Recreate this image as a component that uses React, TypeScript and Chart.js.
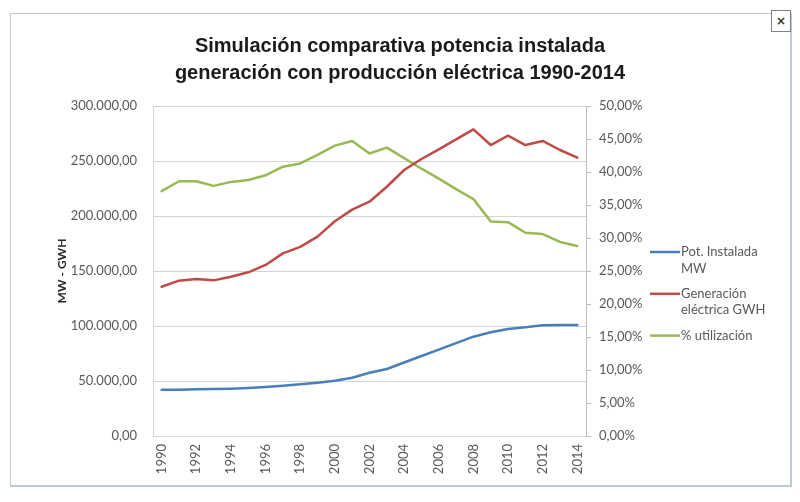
import React, { useEffect, useRef } from "react";
import { Chart, registerables } from "chart.js";

Chart.register(...registerables);

const YEARS = [1990, 1991, 1992, 1993, 1994, 1995, 1996, 1997, 1998, 1999, 2000, 2001, 2002, 2003, 2004, 2005, 2006, 2007, 2008, 2009, 2010, 2011, 2012, 2013, 2014];

const POT_MW = [42100, 42100, 42400, 42700, 43000, 43600, 44500, 45700, 47000, 48500, 50300, 53000, 57500, 60900, 66800, 72700, 78500, 84500, 90300, 94300, 97300, 98800, 100600, 100900, 100900];

const GEN_GWH = [135700, 141200, 142700, 141500, 144800, 148800, 155500, 166000, 172000, 181200, 195200, 205800, 213000, 226600, 241800, 251800, 260600, 269700, 278800, 264500, 273000, 264500, 268200, 260000, 253000];

const PCT_UTIL = [37.1, 38.6, 38.6, 37.9, 38.5, 38.8, 39.5, 40.8, 41.3, 42.6, 44.0, 44.7, 42.8, 43.7, 42.1, 40.5, 39.0, 37.4, 35.9, 32.5, 32.4, 30.8, 30.6, 29.4, 28.8];

const SERIES_LABELS = ["Pot. Instalada MW", "Generación eléctrica GWH", "% utilización"];
const LEGEND_LINES = [["Pot. Instalada", "MW"], ["Generación", "eléctrica GWH"], ["% utilización"]];
const TITLE_LINES = ["Simulación comparativa potencia instalada", "generación con producción eléctrica 1990-2014"];
const Y_TITLE = "MW - GWH";

const fmtLeft = (v: number) =>
  Math.round(v).toString().replace(/\B(?=(\d{3})+(?!\d))/g, ".") + ",00";
const fmtRight = (v: number) => v.toFixed(2).replace(".", ",") + "%";

const TICK_FONT = { family: "Lato, 'Open Sans', sans-serif", size: 13 };
const TEXT_COLOR = "#595959";

const sideLegend = {
  id: "sideLegend",
  afterDraw(chart: any) {
    const ctx = chart.ctx;
    ctx.save();
    let y = 252;
    chart.data.datasets.forEach((ds: any, i: number) => {
      ctx.strokeStyle = ds.borderColor;
      ctx.lineWidth = 2.5;
      ctx.lineCap = "butt";
      ctx.beginPath();
      ctx.moveTo(650, y);
      ctx.lineTo(680, y);
      ctx.stroke();
      ctx.fillStyle = TEXT_COLOR;
      ctx.font = "13px Lato, 'Open Sans', sans-serif";
      ctx.textBaseline = "middle";
      ctx.textAlign = "left";
      (LEGEND_LINES[i] || [ds.label]).forEach((t: string, j: number) => {
        ctx.fillText(t, 681, y + j * 16.5);
      });
      y += 41.8;
    });
    ctx.restore();
  },
};

export default function App() {
  const ref = useRef<HTMLCanvasElement | null>(null);

  useEffect(() => {
    if (!ref.current) return;
    const chart = new Chart(ref.current, {
      type: "line",
      data: {
        labels: YEARS.map(String),
        datasets: [
          {
            label: SERIES_LABELS[0],
            data: POT_MW,
            borderColor: "#4a7ebb",
            backgroundColor: "#4a7ebb",
            yAxisID: "y",
          },
          {
            label: SERIES_LABELS[1],
            data: GEN_GWH,
            borderColor: "#be4b48",
            backgroundColor: "#be4b48",
            yAxisID: "y",
          },
          {
            label: SERIES_LABELS[2],
            data: PCT_UTIL,
            borderColor: "#98b954",
            backgroundColor: "#98b954",
            yAxisID: "y1",
          },
        ],
      },
      options: {
        responsive: false,
        animation: false,
        layout: { padding: 0 },
        elements: {
          point: { radius: 0, hoverRadius: 0 },
          line: { borderWidth: 2.5, tension: 0, borderJoinStyle: "round", borderCapStyle: "round" },
        },
        plugins: {
          legend: { display: false },
          tooltip: { enabled: false },
          title: {
            display: true,
            text: TITLE_LINES,
            color: "#1a1a1a",
            font: { family: "'Liberation Sans', Arial, sans-serif", size: 20, weight: "bold", lineHeight: 1.35 },
            padding: { top: 33, bottom: 19 },
          },
        },
        scales: {
          x: {
            type: "category",
            offset: true,
            grid: { display: false, drawTicks: false },
            border: { display: true, color: "#d4d4d4" },
            ticks: {
              autoSkip: false,
              minRotation: 90,
              maxRotation: 90,
              padding: 8,
              color: TEXT_COLOR,
              font: TICK_FONT,
              callback: (_v: any, i: number) => (YEARS[i] % 2 === 0 ? String(YEARS[i]) : ""),
            },
            afterFit: (s: any) => {
              s.height = 66;
            },
          },
          y: {
            position: "left",
            min: 0,
            max: 300000,
            grid: { color: "#d4d4d4", drawTicks: false },
            border: { display: true, color: "#d4d4d4" },
            ticks: {
              stepSize: 50000,
              padding: 16,
              color: TEXT_COLOR,
              font: TICK_FONT,
              callback: (v: any) => fmtLeft(Number(v)),
            },
            title: {
              display: true,
              text: Y_TITLE,
              color: "#262626",
              font: { family: "Lato, 'Open Sans', sans-serif", size: 12, weight: "bold" },
              padding: { top: 55, bottom: 0 },
            },
            afterFit: (s: any) => {
              s.width = 153;
            },
          },
          y1: {
            position: "right",
            min: 0,
            max: 50,
            grid: { drawOnChartArea: false, drawTicks: true, tickLength: 5, color: "#bfbfbf" },
            border: { display: true, color: "#bfbfbf" },
            ticks: {
              stepSize: 5,
              padding: 8,
              color: TEXT_COLOR,
              font: TICK_FONT,
              callback: (v: any) => fmtRight(Number(v)),
            },
            afterFit: (s: any) => {
              s.width = 214;
            },
          },
        },
      },
      plugins: [sideLegend],
    } as any);
    return () => chart.destroy();
  }, []);

  return (
    <div style={{ position: "fixed", left: 0, top: 0, width: 800, height: 502, background: "#ffffff", overflow: "hidden" }}>
      <canvas ref={ref} width={800} height={502} style={{ position: "absolute", left: 0, top: 0, width: 800, height: 502 }} />
      <div
        style={{
          position: "absolute",
          left: 10,
          top: 13,
          width: 779,
          height: 471,
          border: "1px solid #bccad4",
          borderBottomWidth: 2,
          borderRightWidth: 2,
          pointerEvents: "none",
        }}
      />
      <div
        style={{
          position: "absolute",
          left: 771,
          top: 10,
          width: 18,
          height: 20,
          border: "1px solid #808080",
          background: "#ffffff",
          color: "#333333",
          fontFamily: "'DejaVu Sans', sans-serif",
          fontSize: 12,
          fontWeight: "bold",
          lineHeight: "20px",
          textAlign: "center",
        }}
      >
        ×
      </div>
    </div>
  );
}
